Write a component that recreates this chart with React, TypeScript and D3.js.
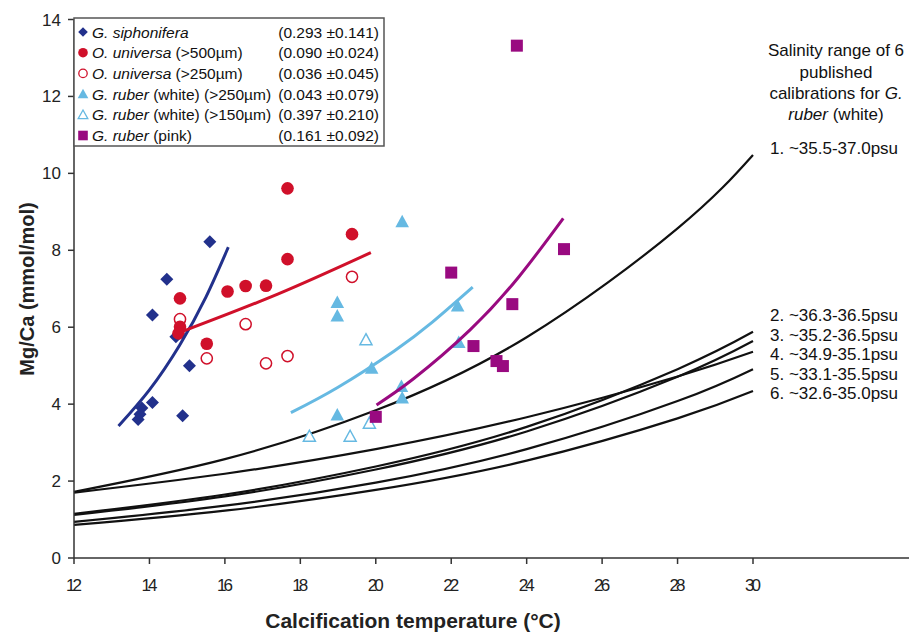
import React from "react";
import * as d3 from "d3";

// ---------- data ----------
const xTicks = [12, 14, 16, 18, 20, 22, 24, 26, 28, 30];
const yTicks = [0, 2, 4, 6, 8, 10, 12, 14];

// G. siphonifera
const siphT = [15.6, 14.46, 14.08, 14.7, 15.06, 14.08, 13.8, 13.75, 13.7, 14.88];
const siphV = [8.22, 7.25, 6.32, 5.75, 5.0, 4.04, 3.9, 3.74, 3.6, 3.7];
// O. universa (>500um) filled
const univBigT = [17.66, 19.37, 17.66, 16.07, 16.55, 17.09, 14.81, 15.52, 14.81, 14.77];
const univBigV = [9.61, 8.42, 7.77, 6.93, 7.07, 7.08, 6.75, 5.57, 6.01, 5.84];
// O. universa (>250um) open
const univSmT = [14.81, 16.55, 15.52, 17.09, 17.66, 19.37];
const univSmV = [6.21, 6.08, 5.19, 5.06, 5.25, 7.31];
// G. ruber white >250 filled triangles
const rubWBigT = [20.7, 18.98, 18.98, 19.89, 18.98, 20.68, 20.7, 22.17, 22.2];
const rubWBigV = [8.74, 6.64, 6.29, 4.93, 3.72, 4.46, 4.16, 6.55, 5.6];
// G. ruber white >150 open triangles
const rubWSmT = [18.24, 19.32, 19.83, 19.74];
const rubWSmV = [3.16, 3.16, 3.5, 5.67];
// G. ruber pink squares
const rubPT = [20.0, 22.0, 22.59, 23.2, 23.37, 23.62, 23.74, 24.99];
const rubPV = [3.67, 7.42, 5.51, 5.12, 4.99, 6.6, 13.32, 8.03];

// fitted lines
const fitSiphT = [13.18, 14.0, 14.8, 15.5, 16.09];
const fitSiphV = [3.43, 4.37, 5.53, 6.79, 8.08];
const fitUnivT = [14.9, 17.4, 19.87];
const fitUnivV = [5.9, 6.86, 7.94];
const fitRubWT = [17.75, 19.0, 20.5, 21.5, 22.57];
const fitRubWV = [3.78, 4.44, 5.39, 6.13, 7.04];
const fitRubPT = [20.02, 21.0, 22.5, 23.8, 24.97];
const fitRubPV = [3.98, 4.66, 5.93, 7.32, 8.83];

// published calibrations (black)
const calT = [12, 16, 20, 24, 28, 30];
const cal1 = [1.72, 2.57, 3.84, 5.74, 8.57, 10.48];
const cal2 = [1.70, 2.19, 2.83, 3.66, 4.72, 5.36];
const cal3 = [1.15, 1.65, 2.38, 3.41, 4.91, 5.88];
const cal4 = [1.12, 1.60, 2.30, 3.29, 4.71, 5.64];
const cal5 = [0.94, 1.36, 1.96, 2.83, 4.08, 4.91];
const cal6 = [0.86, 1.23, 1.77, 2.53, 3.63, 4.34];

const legendNames = ["G. siphonifera", "O. universa", "O. universa", "G. ruber", "G. ruber", "G. ruber"];
const legendExtra = ["", " (>500µm)", " (>250µm)", " (white) (>250µm)", " (white) (>150µm)", " (pink)"];
const legendValues = ["(0.293 ±0.141)", "(0.090 ±0.024)", "(0.036 ±0.045)", "(0.043 ±0.079)", "(0.397 ±0.210)", "(0.161 ±0.092)"];
const salinityLabels = ["2. ~36.3-36.5psu", "3. ~35.2-36.5psu", "4. ~34.9-35.1psu", "5. ~33.1-35.5psu", "6. ~32.6-35.0psu"];

// ---------- styling ----------
const NAVY = "#22318c";
const RED = "#d0102a";
const LBLUE = "#66b9e2";
const MAGENTA = "#990a80";
const FONT = "'Liberation Sans', Arial, sans-serif";

const W = 909, H = 632;
const x = d3.scaleLinear().domain([12, 30]).range([74, 753]);
const y = d3.scaleLinear().domain([0, 14]).range([558, 19.5]);

const zip = (t: number[], v: number[]) => t.map((tt, i) => [tt, v[i]] as [number, number]);
const line = d3.line<[number, number]>().x(d => x(d[0])).y(d => y(d[1])).curve(d3.curveNatural);

type Kind = "diamond" | "circle" | "ocircle" | "tri" | "otri" | "square";

function Marker({ kind, cx, cy }: { kind: Kind; cx: number; cy: number }) {
  switch (kind) {
    case "diamond":
      return <path d={`M${cx},${cy - 6.5}L${cx + 6.5},${cy}L${cx},${cy + 6.5}L${cx - 6.5},${cy}Z`} fill={NAVY} />;
    case "circle":
      return <circle cx={cx} cy={cy} r={6.3} fill={RED} />;
    case "ocircle":
      return <circle cx={cx} cy={cy} r={5.6} fill="white" stroke={RED} strokeWidth={1.5} />;
    case "tri":
      return <path d={`M${cx},${cy - 7}L${cx + 6.8},${cy + 5.5}L${cx - 6.8},${cy + 5.5}Z`} fill={LBLUE} />;
    case "otri":
      return <path d={`M${cx},${cy - 6.2}L${cx + 6},${cy + 4.8}L${cx - 6},${cy + 4.8}Z`} fill="white" stroke={LBLUE} strokeWidth={1.5} />;
    case "square":
      return <rect x={cx - 6} y={cy - 6} width={12} height={12} fill={MAGENTA} />;
  }
}

function LegMarker({ kind, cx, cy }: { kind: Kind; cx: number; cy: number }) {
  switch (kind) {
    case "diamond":
      return <path d={`M${cx},${cy - 4.8}L${cx + 4.8},${cy}L${cx},${cy + 4.8}L${cx - 4.8},${cy}Z`} fill={NAVY} />;
    case "circle":
      return <circle cx={cx} cy={cy} r={4.8} fill={RED} />;
    case "ocircle":
      return <circle cx={cx} cy={cy} r={4.2} fill="white" stroke={RED} strokeWidth={1.3} />;
    case "tri":
      return <path d={`M${cx},${cy - 5.3}L${cx + 5.3},${cy + 4.2}L${cx - 5.3},${cy + 4.2}Z`} fill={LBLUE} />;
    case "otri":
      return <path d={`M${cx},${cy - 4.8}L${cx + 4.8},${cy + 3.8}L${cx - 4.8},${cy + 3.8}Z`} fill="white" stroke={LBLUE} strokeWidth={1.3} />;
    case "square":
      return <rect x={cx - 4.8} y={cy - 4.8} width={9.6} height={9.6} fill={MAGENTA} />;
  }
}

const legendKinds: Kind[] = ["diamond", "circle", "ocircle", "tri", "otri", "square"];

export default function App() {
  const series: { kind: Kind; t: number[]; v: number[] }[] = [
    { kind: "diamond", t: siphT, v: siphV },
    { kind: "ocircle", t: univSmT, v: univSmV },
    { kind: "circle", t: univBigT, v: univBigV },
    { kind: "otri", t: rubWSmT, v: rubWSmV },
    { kind: "tri", t: rubWBigT, v: rubWBigV },
    { kind: "square", t: rubPT, v: rubPV },
  ];
  const cals = [cal1, cal2, cal3, cal4, cal5, cal6];
  const fits = [
    { t: fitSiphT, v: fitSiphV, c: NAVY },
    { t: fitUnivT, v: fitUnivV, c: RED },
    { t: fitRubWT, v: fitRubWV, c: LBLUE },
    { t: fitRubPT, v: fitRubPV, c: MAGENTA },
  ];
  return (
    <svg width={W} height={H} style={{ position: "absolute", left: 0, top: 0, background: "white" }} fontFamily={FONT}>
      {/* black calibration curves */}
      {cals.map((c, i) => (
        <path key={"c" + i} d={line(zip(calT, c)) || ""} fill="none" stroke="#111" strokeWidth={2.2} />
      ))}
      {/* points */}
      {series.map((s, si) =>
        s.t.map((t, i) => <Marker key={si + "-" + i} kind={s.kind} cx={x(t)} cy={y(s.v[i])} />)
      )}
      {/* fit lines */}
      {fits.map((f, i) => (
        <path key={"f" + i} d={line(zip(f.t, f.v)) || ""} fill="none" stroke={f.c} strokeWidth={3} />
      ))}
      {/* axes */}
      <line x1={74} x2={74} y1={y(14)} y2={558} stroke="#333" strokeWidth={1.5} />
      <line x1={74} x2={909} y1={558} y2={558} stroke="#333" strokeWidth={1.5} />
      {yTicks.map(t => (
        <g key={"yt" + t}>
          <line x1={68} x2={74} y1={y(t)} y2={y(t)} stroke="#333" strokeWidth={1.5} />
          <text x={61} y={y(t) + 6} textAnchor="end" fontSize={17} fill="#222">{t}</text>
        </g>
      ))}
      {xTicks.map(t => (
        <g key={"xt" + t}>
          <line x1={x(t)} x2={x(t)} y1={558} y2={564} stroke="#333" strokeWidth={1.5} />
          <text x={x(t)} y={591} textAnchor="middle" fontSize={17} fill="#222" textLength={t >= 10 ? 16 : undefined}>{t}</text>
        </g>
      ))}
      <text x={413} y={628} textAnchor="middle" fontSize={21} fontWeight="bold" fill="#222">Calcification temperature (°C)</text>
      <text transform={`translate(34,289) rotate(-90)`} textAnchor="middle" fontSize={20} fontWeight="bold" fill="#222">Mg/Ca (mmol/mol)</text>

      {/* legend */}
      <rect x={74} y={18} width={310} height={128} fill="white" stroke="#555" strokeWidth={1.5} />
      {legendNames.map((n, i) => {
        const cy = 32 + i * 20.7;
        return (
          <g key={"lg" + i}>
            <LegMarker kind={legendKinds[i]} cx={83} cy={cy} />
            <text x={92} y={cy + 5.5} fontSize={15.5} fill="#111">
              <tspan fontStyle="italic">{n}</tspan>
              <tspan>{legendExtra[i]}</tspan>
            </text>
            <text x={379} y={cy + 5.5} fontSize={15.5} fill="#111" textAnchor="end">{legendValues[i]}</text>
          </g>
        );
      })}

      {/* annotation */}
      <g fontSize={17} fill="#111">
        <text x={836} y={56} textAnchor="middle">Salinity range of 6</text>
        <text x={836} y={78} textAnchor="middle">published</text>
        <text x={836} y={99} textAnchor="middle">calibrations for <tspan fontStyle="italic">G.</tspan></text>
        <text x={836} y={120} textAnchor="middle"><tspan fontStyle="italic">ruber</tspan> (white)</text>
        <text x={770} y={154}>1. ~35.5-37.0psu</text>
        {salinityLabels.map((s, i) => (
          <text key={"sl" + i} x={770} y={321 + i * 19.6}>{s}</text>
        ))}
      </g>
    </svg>
  );
}
